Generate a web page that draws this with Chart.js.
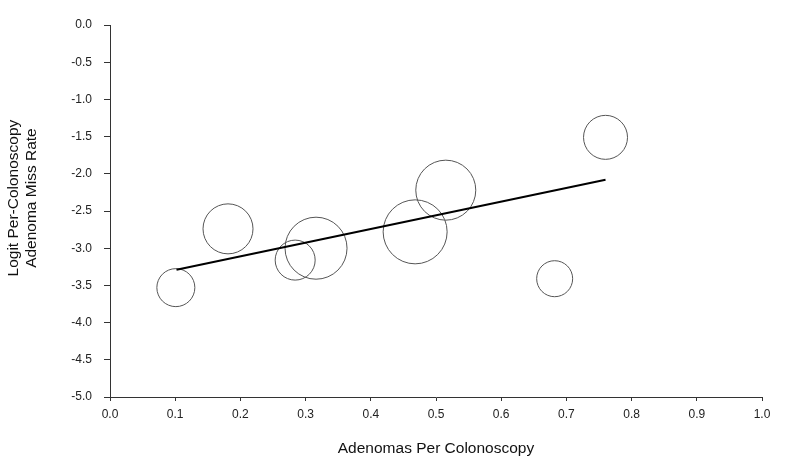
<!DOCTYPE html>
<html>
<head>
<meta charset="utf-8">
<script src="https://cdn.jsdelivr.net/npm/chart.js@4/dist/chart.umd.min.js"></script>
<style>
  html, body { margin: 0; padding: 0; background: #fff; }
  #wrap { width: 800px; height: 461px; position: relative; }
</style>
</head>
<body>
<div id="wrap"><canvas id="graphCanvas"></canvas></div>
<script>
// Estudios: adenomas por colonoscopia, logit de la tasa de fallo, tamaño del círculo (peso)
const studyX = [0.101, 0.181, 0.284, 0.316, 0.468, 0.515, 0.682, 0.760];
const studyY = [-3.53, -2.74, -3.16, -3.00, -2.78, -2.22, -3.41, -1.51];
const studyR = [19, 25, 20, 31, 32, 30, 18, 22];

// Recta de regresión
const fitX = [0.102, 0.760];
const fitY = [-3.29, -2.08];

const xTitle = 'Adenomas Per Colonoscopy';
const yTitle = ['Logit Per-Colonoscopy', 'Adenoma Miss Rate'];

const FONT = 'Liberation Sans, Arial, Helvetica, sans-serif';
const AXIS = '#333';
// el título vertical va un poco por encima del centro del eje
const PAD = '      ';

const ctx = document.getElementById('graphCanvas').getContext('2d');

window.myChart = new Chart(ctx, {
    data: {
        datasets: [
            {
                type: 'line',
                data: fitX.map((x, i) => ({ x, y: fitY[i] })),
                borderColor: '#000',
                borderWidth: 2,
                pointRadius: 0,
                fill: false,
                order: 0
            },
            {
                type: 'bubble',
                data: studyX.map((x, i) => ({ x, y: studyY[i], r: studyR[i] })),
                backgroundColor: 'rgba(0,0,0,0)',
                borderColor: '#555',
                borderWidth: 1,
                order: 1
            }
        ]
    },
    options: {
        responsive: true,
        maintainAspectRatio: false,
        animation: false,
        layout: { autoPadding: false, padding: { top: 25, right: 38, bottom: 0, left: 0 } },
        scales: {
            x: {
                type: 'linear',
                min: 0,
                max: 1,
                afterFit: s => { s.height = 64; },
                ticks: {
                    stepSize: 0.1,
                    padding: 6,
                    color: '#222',
                    font: { family: FONT, size: 12 },
                    callback: v => v.toFixed(1)
                },
                grid: { drawOnChartArea: false, drawTicks: true, tickLength: 4, color: AXIS },
                border: { display: true, color: AXIS, width: 1 },
                title: {
                    display: true,
                    text: xTitle,
                    color: '#111',
                    font: { family: FONT, size: 15.5 },
                    padding: { top: 4, bottom: 3 }
                }
            },
            y: {
                type: 'linear',
                min: -5,
                max: 0,
                afterFit: s => { s.width = 110; },
                ticks: {
                    stepSize: 0.5,
                    padding: 12,
                    color: '#222',
                    font: { family: FONT, size: 12 },
                    callback: v => v.toFixed(1)
                },
                grid: { drawOnChartArea: false, drawTicks: true, tickLength: 6, color: AXIS },
                border: { display: true, color: AXIS, width: 1 },
                title: {
                    display: true,
                    text: yTitle.map(t => PAD + t),
                    color: '#111',
                    font: { family: FONT, size: 15.5 },
                    padding: { top: 4, bottom: 4 }
                }
            }
        },
        plugins: {
            legend: { display: false },
            tooltip: { enabled: false }
        }
    }
});
</script>
</body>
</html>
